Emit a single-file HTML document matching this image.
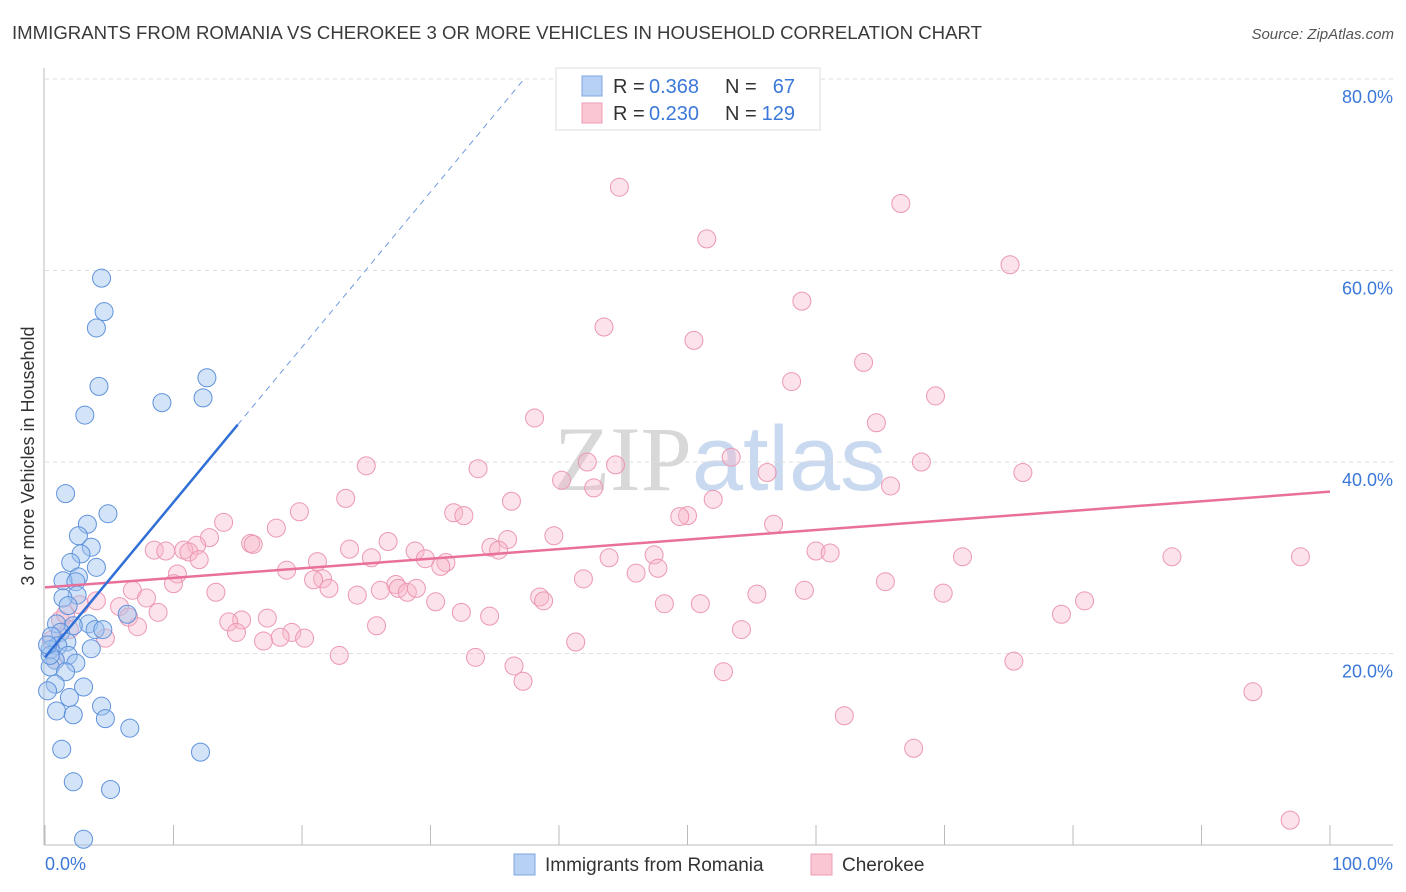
<!DOCTYPE html>
<html><head><meta charset="utf-8">
<style>
body{margin:0;background:#fff;font-family:"Liberation Sans",sans-serif;}
svg{display:block}
</style></head>
<body>
<svg id="chart" width="1406" height="892" xmlns="http://www.w3.org/2000/svg" font-family="Liberation Sans, sans-serif">
<text x="12" y="39" font-size="18" fill="#3a3a3a" textLength="970" lengthAdjust="spacingAndGlyphs">IMMIGRANTS FROM ROMANIA VS CHEROKEE 3 OR MORE VEHICLES IN HOUSEHOLD CORRELATION CHART</text>
<text x="1394" y="39" font-size="15" fill="#555" font-style="italic" text-anchor="end">Source: ZipAtlas.com</text>
<text x="720" y="490" font-size="92" text-anchor="middle" fill="#dfe3ea"><tspan font-family="Liberation Serif, serif" fill="#d8d8d8">ZIP</tspan><tspan fill="#c9d9f0">atlas</tspan></text>
<g id="grid"></g>
<g id="axes"></g>
<g id="pts"></g>
<g id="lines"></g>
<text transform="translate(34,456) rotate(-90)" font-size="18" fill="#333" text-anchor="middle">3 or more Vehicles in Household</text>
<g>
<rect x="556" y="68" width="264" height="62" fill="#fff" stroke="#ddd"/>
<rect x="582" y="76" width="20" height="20" fill="#b7d1f5" stroke="#7fa7e0"/>
<rect x="582" y="103" width="20" height="20" fill="#fbc6d4" stroke="#ee9cb4"/>
<text x="613" y="93" font-size="20" fill="#333">R =</text>
<text x="649" y="93" font-size="20" fill="#3b78d8">0.368</text>
<text x="725" y="93" font-size="20" fill="#333">N =</text>
<text x="795" y="93" font-size="20" fill="#3b78d8" text-anchor="end">67</text>
<text x="613" y="120" font-size="20" fill="#333">R =</text>
<text x="649" y="120" font-size="20" fill="#3b78d8">0.230</text>
<text x="725" y="120" font-size="20" fill="#333">N =</text>
<text x="795" y="120" font-size="20" fill="#3b78d8" text-anchor="end">129</text>
</g>
<g>
<rect x="514" y="854" width="21" height="21" fill="#b7d1f5" stroke="#7fa7e0"/>
<text x="545" y="871" font-size="19" fill="#333">Immigrants from Romania</text>
<rect x="811" y="854" width="21" height="21" fill="#fbc6d4" stroke="#ee9cb4"/>
<text x="842" y="871" font-size="19" fill="#333">Cherokee</text>
</g>
</svg>
<script>
const yTicks=[20,40,60,80];
const yTickLabels=["20.0%","40.0%","60.0%","80.0%"];
const xTicks=[0,10,20,30,40,50,60,70,80,90,100];
const blueX=[4.4,4.6,4.0,4.2,3.1,9.1,12.6,12.3,1.6,4.9,3.3,2.6,3.6,2.8,2.0,4.0,2.6,1.4,2.4,2.5,1.4,1.8,6.4,0.9,3.4,2.2,3.9,4.5,1.2,0.5,1.7,1.0,3.6,0.4,1.8,0.8,2.4,0.4,1.6,0.8,3.0,0.2,1.9,0.9,4.4,2.2,4.7,6.6,1.3,12.1,2.2,5.1,3.0,0.4,0.2];
const blueY=[59.2,55.7,54.0,47.9,44.9,46.2,48.8,46.7,36.7,34.6,33.5,32.3,31.1,30.4,29.5,29.0,28.0,27.6,27.5,26.1,25.8,25.0,24.1,23.1,23.1,22.9,22.5,22.5,22.2,21.8,21.2,20.8,20.5,20.4,19.8,19.3,19.0,18.6,18.1,16.8,16.5,16.1,15.4,14.0,14.5,13.6,13.2,12.2,10.0,9.7,6.6,5.8,0.6,19.8,20.9];
const pinkX=[44.7,66.6,51.5,75.1,58.9,43.5,50.5,63.7,58.1,69.3,38.1,64.7,53.4,42.2,44.4,68.2,25.0,33.7,56.2,76.1,40.2,42.7,65.8,23.4,52.0,36.3,31.8,32.6,50.0,49.4,19.8,13.9,18.0,56.7,39.6,12.8,26.7,16.0,16.2,11.8,36.0,8.5,10.8,9.4,11.2,23.7,34.7,35.3,28.8,60.0,61.1,47.4,25.4,12.0,29.6,71.4,87.7,97.7,21.2,43.9,31.2,30.8,47.7,10.3,18.8,46.0,21.6,20.9,41.9,22.1,27.3,27.5,28.2,65.4,10.0,28.9,26.1,13.3,6.8,59.1,24.3,38.5,38.8,7.9,69.9,55.4,30.4,80.9,48.2,51.0,4.0,5.8,8.8,32.4,34.6,79.1,17.3,15.3,6.5,14.3,25.8,19.2,54.2,7.2,14.9,18.3,20.2,17.0,4.7,41.3,22.9,33.5,75.4,36.5,37.2,52.8,94.0,62.2,67.6,96.9,1.2,1.6,2.7,0.5,0.8,1.9];
const pinkY=[68.7,67.0,63.3,60.6,56.8,54.1,52.7,50.4,48.4,46.9,44.6,44.1,40.5,40.0,39.7,40.0,39.6,39.3,38.9,38.9,38.1,37.3,37.5,36.2,36.1,35.9,34.7,34.4,34.4,34.3,34.8,33.7,33.1,33.5,32.3,32.1,31.7,31.5,31.4,31.3,31.9,30.8,30.8,30.7,30.6,30.9,31.1,30.8,30.7,30.7,30.5,30.3,30.0,29.8,29.9,30.1,30.1,30.1,29.6,30.0,29.5,29.1,28.9,28.3,28.7,28.4,27.8,27.7,27.8,26.8,27.2,26.8,26.4,27.5,27.3,26.8,26.6,26.4,26.6,26.6,26.1,25.9,25.5,25.8,26.3,26.2,25.4,25.5,25.2,25.2,25.5,24.9,24.3,24.3,23.9,24.1,23.7,23.5,23.8,23.3,22.9,22.2,22.5,22.8,22.2,21.7,21.6,21.3,21.6,21.2,19.8,19.6,19.2,18.7,17.1,18.1,16.0,13.5,10.1,2.6,23.5,24.1,25.1,21.4,19.3,22.5];
const blueTrend=[19.6,1.62];
const pinkTrend=[26.9,0.10];
const NS="http://www.w3.org/2000/svg";
const X0=45,X1=1330,Y0=845,PY=9.575;
const xs=v=>X0+(X1-X0)*v/100;
const ys=v=>Y0-PY*v;
function mk(tag,attrs,parent){const e=document.createElementNS(NS,tag);for(const k in attrs)e.setAttribute(k,attrs[k]);document.getElementById(parent).appendChild(e);return e;}
yTicks.forEach((t,i)=>{
 const l=mk('line',{x1:45,x2:1393,y1:ys(t),y2:ys(t),stroke:'#ddd','stroke-dasharray':'4,4'},'grid');
 
 
 const tx=mk('text',{x:1393,y:ys(t)+24,'font-size':18,fill:'#3b78d8','text-anchor':'end'},'grid');
 tx.textContent=yTickLabels[i];
 
 
});
const ax=mk('line',{x1:44,x2:44,y1:68,y2:Y0,stroke:'#bbb'},'axes');


const bx=mk('line',{x1:44,x2:1393,y1:Y0,y2:Y0,stroke:'#bbb'},'axes');


xTicks.forEach(t=>{
 const l=mk('line',{x1:xs(t),x2:xs(t),y1:825,y2:Y0,stroke:'#bbb'},'axes');
 
 
});
const xl0=mk('text',{x:45,y:870,'font-size':18,fill:'#3b78d8'},'axes');xl0.textContent='0.0%';


const xl1=mk('text',{x:1393,y:870,'font-size':18,fill:'#3b78d8','text-anchor':'end'},'axes');xl1.textContent='100.0%';


pinkX.forEach((v,i)=>{
 const c=mk('circle',{cx:xs(v),cy:ys(pinkY[i]),r:9,fill:'rgba(248,182,202,0.4)',stroke:'#ec98b2','stroke-width':1},'pts');
 
 
});
blueX.forEach((v,i)=>{
 const c=mk('circle',{cx:xs(v),cy:ys(blueY[i]),r:9,fill:'rgba(160,196,240,0.45)',stroke:'#5f92db','stroke-width':1},'pts');
 
 
});
const pl=mk('line',{x1:xs(0),y1:ys(pinkTrend[0]),x2:xs(100),y2:ys(pinkTrend[0]+pinkTrend[1]*100),stroke:'#e8709a','stroke-width':2.5},'lines');


const xe=(80-blueTrend[0])/blueTrend[1];
const bl=mk('line',{x1:xs(0),y1:ys(blueTrend[0]),x2:xs(15),y2:ys(blueTrend[0]+blueTrend[1]*15),stroke:'#2f6fd6','stroke-width':2.5},'lines');


const bd=mk('line',{x1:xs(15),y1:ys(blueTrend[0]+blueTrend[1]*15),x2:xs(xe),y2:ys(80),stroke:'#6f9be0','stroke-width':1,'stroke-dasharray':'6,5'},'lines');


</script>
</body></html>
